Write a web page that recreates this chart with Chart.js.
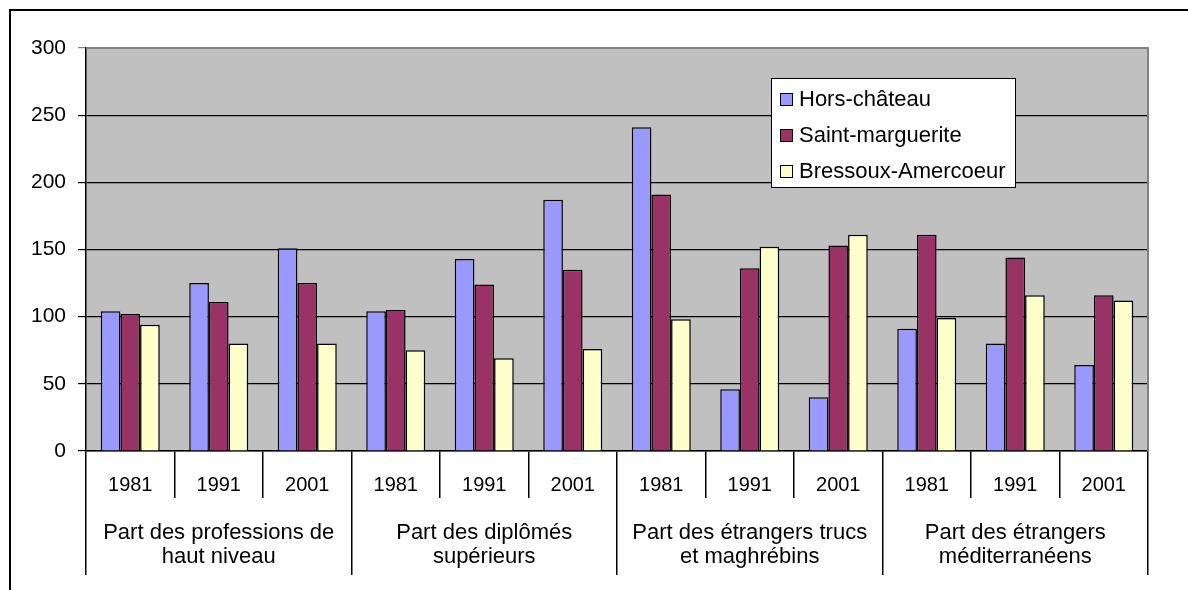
<!DOCTYPE html>
<html>
<head>
<meta charset="utf-8">
<script src="https://cdn.jsdelivr.net/npm/chart.js@4.4.0/dist/chart.umd.min.js"></script>
<style>
  html, body { margin: 0; padding: 0; background: #fff; }
  canvas { display: block; }
</style>
</head>
<body>
<canvas id="chart" width="1188" height="590"></canvas>
<script>
(function () {
  "use strict";

  /* ── data ── */
  const years = ["1981", "1991", "2001", "1981", "1991", "2001", "1981", "1991", "2001", "1981", "1991", "2001"];
  const groups = [
    ["Part des professions de", "haut niveau"],
    ["Part des diplômés", "supérieurs"],
    ["Part des étrangers trucs", "et maghrébins"],
    ["Part des étrangers", "méditerranéens"],
  ];
  const horsChateau = [104, 125, 151, 104, 143, 187, 241, 46, 40, 91, 80, 64];
  const saintMarguerite = [102, 111, 125, 105, 124, 135, 191, 136, 153, 161, 144, 116];
  const bressoux = [94, 80, 80, 75, 69, 76, 98, 152, 161, 99, 116, 112];
  const yTicks = [0, 50, 100, 150, 200, 250, 300];

  const FONT = "'Liberation Sans', Arial, sans-serif";

  /* ── background, frame, plot borders ── */
  const framePlugin = {
    id: "frame",
    beforeDraw(chart) {
      const c = chart.ctx, a = chart.chartArea;
      c.save();
      c.fillStyle = "#fff";
      c.fillRect(0, 0, chart.width, chart.height);
      c.strokeStyle = "#000";
      c.lineWidth = 2;
      c.beginPath();
      c.moveTo(10, chart.height + 2);
      c.lineTo(10, 10);
      c.lineTo(chart.width + 2, 10);
      c.stroke();
      c.fillStyle = "#c0c0c0";
      c.fillRect(a.left, a.top, a.right - a.left, a.bottom - a.top);
      c.restore();
    },
    afterDatasetsDraw(chart) {
      const c = chart.ctx, a = chart.chartArea;
      c.save();
      c.strokeStyle = "#808080";
      c.lineWidth = 2;
      c.beginPath();
      c.moveTo(a.left, a.top);
      c.lineTo(a.right, a.top);
      c.lineTo(a.right, a.bottom);
      c.stroke();
      c.restore();
    },
  };

  /* ── legend box inside the plot ── */
  const boxLegend = {
    id: "boxLegend",
    afterDraw(chart, args, opts) {
      const c = chart.ctx;
      c.save();
      c.fillStyle = "#fff";
      c.fillRect(opts.x, opts.y, opts.w, opts.h);
      c.strokeStyle = "#000";
      c.lineWidth = 1;
      c.strokeRect(opts.x + 0.5, opts.y + 0.5, opts.w, opts.h);
      c.font = "22px " + FONT;
      c.textBaseline = "middle";
      chart.data.datasets.forEach(function (ds, i) {
        const cy = opts.y + 21 + i * 36;
        c.fillStyle = ds.backgroundColor;
        c.fillRect(opts.x + 9, cy - 6, 12, 12);
        c.strokeRect(opts.x + 9.5, cy - 5.5, 12, 12);
        c.fillStyle = "#000";
        c.fillText(ds.label, opts.x + 28, cy + 1);
      });
      c.restore();
    },
  };

  new Chart(document.getElementById("chart").getContext("2d"), {
    type: "bar",
    data: {
      labels: years,
      datasets: [
        { label: "Hors-château", data: horsChateau, backgroundColor: "#9999ff" },
        { label: "Saint-marguerite", data: saintMarguerite, backgroundColor: "#993366" },
        { label: "Bressoux-Amercoeur", data: bressoux, backgroundColor: "#ffffcc" },
      ].map(function (d) {
        d.borderColor = "#000";
        d.borderWidth = 1.5;
        d.categoryPercentage = 0.667;
        d.barPercentage = 1;
        return d;
      }),
    },
    options: {
      responsive: false,
      devicePixelRatio: 1,
      animation: false,
      layout: { padding: { top: 48, right: 40, left: 0, bottom: 15 } },
      plugins: {
        legend: { display: false },
        tooltip: { enabled: false },
        boxLegend: { x: 771, y: 78, w: 244, h: 109 },
      },
      scales: {
        y: {
          min: 0,
          max: 300,
          afterBuildTicks: function (s) { s.ticks = yTicks.map(function (v) { return { value: v }; }); },
          afterFit: function (s) { s.width = 86; },
          grid: {
            color: function (ctx) { return ctx.tick && ctx.tick.value === 300 ? "#808080" : "#000"; },
            lineWidth: 1.2,
            tickLength: 8,
          },
          border: { color: "#000", width: 1.5 },
          ticks: { color: "#000", font: { family: FONT, size: 21 }, padding: 12 },
        },
        x: {
          weight: 0,
          afterFit: function (s) { s.height = 47; },
          grid: { offset: true, drawOnChartArea: false, color: "#000", lineWidth: 1.5, tickLength: 47 },
          border: { color: "#000", width: 1.5 },
          ticks: { color: "#000", font: { family: FONT, size: 20 }, padding: -25, autoSkip: false, maxRotation: 0 },
        },
        x2: {
          type: "category",
          position: "bottom",
          weight: 1,
          labels: groups,
          offset: true,
          afterFit: function (s) { s.height = 77; },
          grid: { offset: true, drawOnChartArea: false, color: "#000", lineWidth: 1.5, tickLength: 77 },
          border: { display: false },
          ticks: { color: "#000", font: { family: FONT, size: 22, lineHeight: 1.1 }, padding: -54, autoSkip: false, maxRotation: 0 },
        },
      },
    },
    plugins: [framePlugin, boxLegend],
  });
})();
</script>
</body>
</html>
